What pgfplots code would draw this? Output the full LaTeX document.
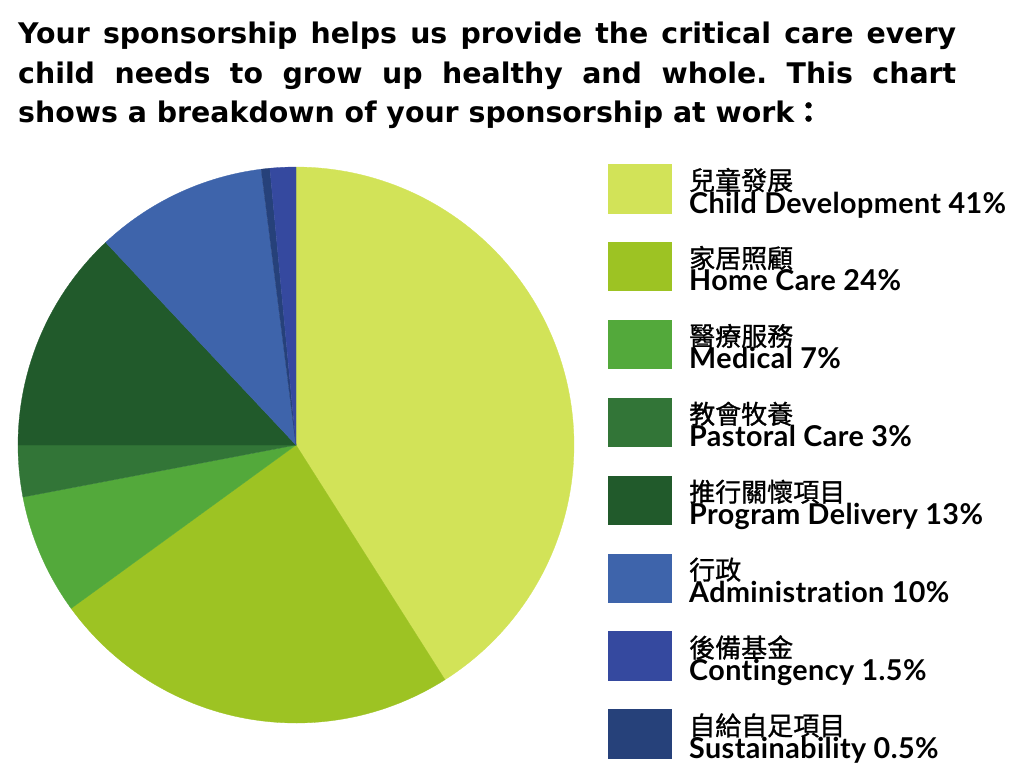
\documentclass[border=0pt]{standalone}
\usepackage{pgfplots}
\pgfplotsset{compat=1.18}
\usepackage{fontspec}
\setmainfont{Lato}[Ligatures={NoCommon},LetterSpace=1.5]
\newfontfamily\ttlfont{DejaVu Sans}[Ligatures={NoCommon}]
\newfontfamily\cjk{Noto Sans CJK TC}[FakeBold=1]
\frenchspacing
\definecolor{cChild}{HTML}{D2E358}
\definecolor{cHome}{HTML}{9DC323}
\definecolor{cMed}{HTML}{53A93B}
\definecolor{cPast}{HTML}{327537}
\definecolor{cProg}{HTML}{215A2B}
\definecolor{cAdmin}{HTML}{3E64AB}
\definecolor{cCont}{HTML}{35499F}
\definecolor{cSust}{HTML}{26417A}
% shares in percent, clockwise from 12 o'clock
\def\vChild{41}\def\vHome{24}\def\vMed{7}\def\vPast{3}
\def\vProg{13}\def\vAdmin{10}\def\vSust{0.5}\def\vCont{1.5}
\newcommand{\ttl}{\fontsize{28.7}{36}\selectfont\bfseries}
\newcommand{\ttlb}{\fontsize{28.4}{36}\selectfont\ttlfont\bfseries}
\newcommand{\leg}[4]{%
  \fill[#1] (607.5,{164+77.9*#2}) rectangle (671.5,{213.5+77.9*#2});
  \node[anchor=base west,inner sep=0,font=\fontsize{26}{30}\selectfont\cjk] at (689,{190+77.9*#2}) {#3};
  \node[anchor=base west,inner sep=0,font=\ttl] at (689,{213+77.9*#2}) {#4};}
\begin{document}
\begin{tikzpicture}[x=1pt,y=-1pt]
\path[use as bounding box] (0,0) rectangle (1024,780);
\node[anchor=base west,inner sep=0,font=\ttlb] at (18,43.5) {\makebox[938pt][s]{Your sponsorship helps us provide the critical care every}};
\node[anchor=base west,inner sep=0,font=\ttlb] at (18,83) {\makebox[938pt][s]{child needs to grow up healthy and whole. This chart}};
\node[anchor=base west,inner sep=0,font=\ttlb] at (18,122.5) {shows a breakdown of your sponsorship at work{\cjk ：}};
\begin{axis}[at={(296pt,-445pt)}, anchor=center, width=556pt, height=556pt, scale only axis,
  xmin=-1, xmax=1, ymin=-1, ymax=1, hide axis, clip=false]
\addplot[fill=cChild, draw=cChild, line width=0.3pt, domain={90-3.6*\vChild}:{90}, samples=100] ({cos(x)},{sin(x)}) -- (axis cs:0,0) -- cycle;
\addplot[fill=cHome, draw=cHome, line width=0.3pt, domain={90-3.6*(\vChild+\vHome)}:{90-3.6*\vChild}, samples=60] ({cos(x)},{sin(x)}) -- (axis cs:0,0) -- cycle;
\addplot[fill=cMed, draw=cMed, line width=0.3pt, domain={90-3.6*(\vChild+\vHome+\vMed)}:{90-3.6*(\vChild+\vHome)}, samples=20] ({cos(x)},{sin(x)}) -- (axis cs:0,0) -- cycle;
\addplot[fill=cPast, draw=cPast, line width=0.3pt, domain={90-3.6*(\vChild+\vHome+\vMed+\vPast)}:{90-3.6*(\vChild+\vHome+\vMed)}, samples=10] ({cos(x)},{sin(x)}) -- (axis cs:0,0) -- cycle;
\addplot[fill=cProg, draw=cProg, line width=0.3pt, domain={90-3.6*(\vChild+\vHome+\vMed+\vPast+\vProg)}:{90-3.6*(\vChild+\vHome+\vMed+\vPast)}, samples=30] ({cos(x)},{sin(x)}) -- (axis cs:0,0) -- cycle;
\addplot[fill=cAdmin, draw=cAdmin, line width=0.3pt, domain={90-3.6*(\vChild+\vHome+\vMed+\vPast+\vProg+\vAdmin)}:{90-3.6*(\vChild+\vHome+\vMed+\vPast+\vProg)}, samples=30] ({cos(x)},{sin(x)}) -- (axis cs:0,0) -- cycle;
\addplot[fill=cSust, draw=cSust, line width=0.3pt, domain={90-3.6*(\vChild+\vHome+\vMed+\vPast+\vProg+\vAdmin+\vSust)}:{90-3.6*(\vChild+\vHome+\vMed+\vPast+\vProg+\vAdmin)}, samples=4] ({cos(x)},{sin(x)}) -- (axis cs:0,0) -- cycle;
\addplot[fill=cCont, draw=cCont, line width=0.3pt, domain={90-3.6*(\vChild+\vHome+\vMed+\vPast+\vProg+\vAdmin+\vSust+\vCont)}:{90-3.6*(\vChild+\vHome+\vMed+\vPast+\vProg+\vAdmin+\vSust)}, samples=6] ({cos(x)},{sin(x)}) -- (axis cs:0,0) -- cycle;
\end{axis}
\leg{cChild}{0}{兒童發展}{Child Development 41\%}
\leg{cHome}{1}{家居照顧}{Home Care 24\%}
\leg{cMed}{2}{醫療服務}{Medical 7\%}
\leg{cPast}{3}{教會牧養}{Pastoral Care 3\%}
\leg{cProg}{4}{推行關懷項目}{Program Delivery 13\%}
\leg{cAdmin}{5}{行政}{Administration 10\%}
\leg{cCont}{6}{後備基金}{Contingency 1.5\%}
\leg{cSust}{7}{自給自足項目}{Sustainability 0.5\%}
\end{tikzpicture}
\end{document}
